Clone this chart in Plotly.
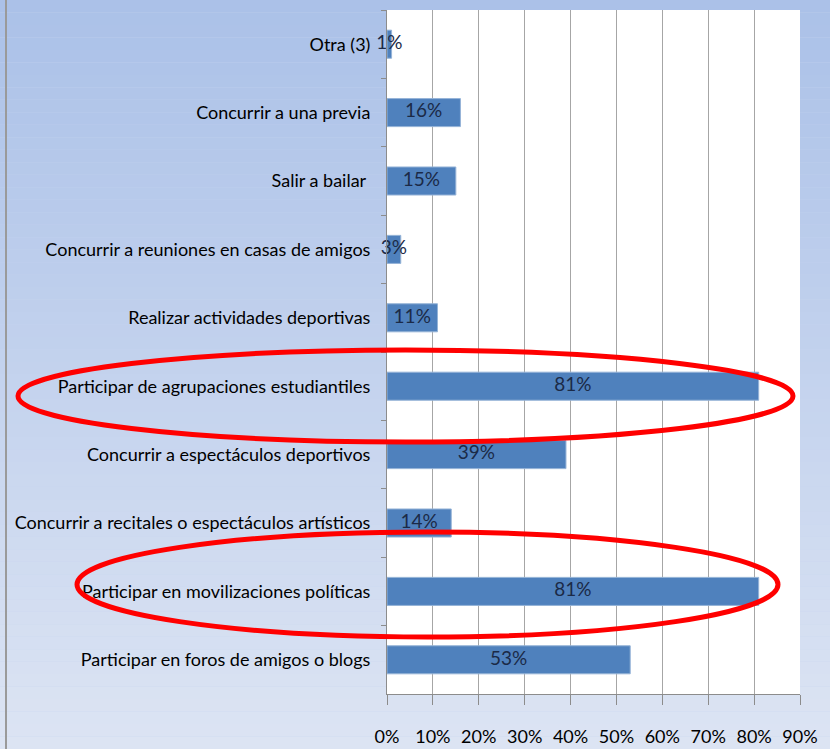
import plotly.graph_objects as go

categories = [
    "Otra (3)",
    "Concurrir a una previa",
    "Salir a bailar ",
    "Concurrir a reuniones en casas de amigos",
    "Realizar actividades deportivas",
    "Participar de agrupaciones estudiantiles",
    "Concurrir a espectáculos deportivos",
    "Concurrir a recitales o espectáculos artísticos",
    "Participar en movilizaciones políticas",
    "Participar en foros de amigos o blogs",
]
values = [1, 16, 15, 3, 11, 81, 39, 14, 81, 53]
x_ticks = [0, 10, 20, 30, 40, 50, 60, 70, 80, 90]
x_tick_labels = [f"{t}%" for t in x_ticks]

FONT = "Liberation Sans Narrow, Lato, sans-serif"

# plot area in pixels (for converting the highlight ellipses to paper coords)
W, H = 830, 749
L, R, T, B = 387, 800, 10, 694


def px(x):
    return (x - L) / (R - L)


def py(y):
    return (B - y) / (B - T)


fig = go.Figure()
fig.add_trace(go.Bar(
    x=values, y=categories, orientation="h",
    marker=dict(color="#4f81bd", line=dict(color="#95b3d7", width=1)),
    hoverinfo="x+y",
))
fig.add_trace(go.Scatter(
    x=[v / 2 for v in values], y=categories, mode="text",
    text=[f"{v}%" for v in values],
    textfont=dict(family=FONT, size=19, color="#1b2a47"),
    hoverinfo="skip", cliponaxis=False,
))

shapes = []
# stepped vertical gradient for the background
n = 60
top_c, bot_c = (171, 193, 232), (220, 228, 243)
y_top, y_bot = py(0), py(H)
for i in range(n):
    f = i / (n - 1)
    c = tuple(round(top_c[k] + (bot_c[k] - top_c[k]) * f) for k in range(3))
    y1 = y_top + (y_bot - y_top) * i / n
    y0 = y_top + (y_bot - y_top) * (i + 1) / n
    shapes.append(dict(type="rect", xref="paper", yref="paper", layer="below",
                       x0=px(0), x1=px(W), y0=y0, y1=y1,
                       fillcolor="rgb(%d,%d,%d)" % c, line=dict(width=0)))
# white plot area on top of the gradient
shapes.append(dict(type="rect", xref="paper", yref="paper", layer="below",
                   x0=0, x1=1, y0=0, y1=1, fillcolor="white", line=dict(width=0)))
shapes.append(dict(type="line", xref="paper", yref="paper", layer="above",
                   x0=px(6), x1=px(6), y0=py(0), y1=py(H),
                   line=dict(color="#9a9a9a", width=2)))
# red highlight ellipses
for x0, x1, y0, y1 in [(18, 793, 350, 442), (77, 778, 532, 637)]:
    shapes.append(dict(type="circle", xref="paper", yref="paper", layer="above",
                       x0=px(x0), x1=px(x1), y0=py(y1), y1=py(y0),
                       line=dict(color="#ff0000", width=5)))

fig.update_layout(
    width=W, height=H,
    margin=dict(l=L, r=W - R, t=T, b=H - B),
    paper_bgcolor="#c6d4ee", plot_bgcolor="white",
    showlegend=False, bargap=0.59,
    font=dict(family=FONT, size=18, color="black"),
    shapes=shapes,
)
fig.update_xaxes(
    range=[0, 90], tickvals=x_ticks, ticktext=x_tick_labels,
    showgrid=True, gridcolor="#a6a6a6", gridwidth=1,
    showline=True, linecolor="#8c8c8c", linewidth=1,
    ticks="outside", ticklen=10, tickcolor="#8c8c8c",
    ticklabelstandoff=16, zeroline=False, tickangle=0, automargin=False,
    tickfont=dict(family=FONT, size=18, color="black"),
)
fig.update_yaxes(
    categoryorder="array", categoryarray=categories, autorange="reversed",
    showline=True, linecolor="#8c8c8c", linewidth=1,
    ticks="outside", ticklen=5, tickcolor="#8c8c8c", tickson="boundaries",
    ticklabelstandoff=12, showgrid=False, automargin=False,
    tickfont=dict(family=FONT, size=18, color="black"),
)

fig.write_html("out.html", config={"displayModeBar": False},
               post_script="document.body.style.margin='0';")
